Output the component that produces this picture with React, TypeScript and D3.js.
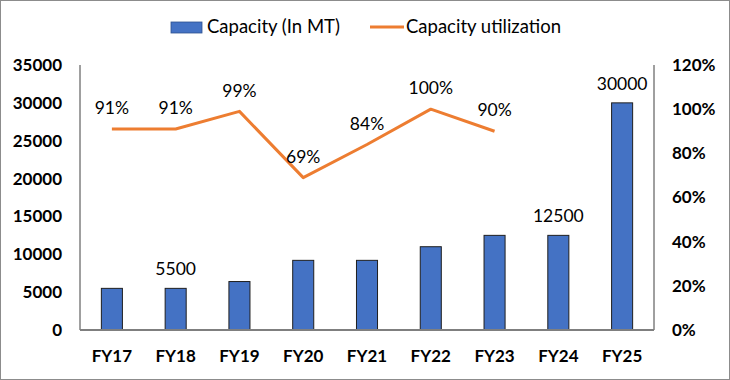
import React from "react";
import * as d3 from "d3";

const categories = ["FY17", "FY18", "FY19", "FY20", "FY21", "FY22", "FY23", "FY24", "FY25"];
const capacity = [5500, 5500, 6400, 9200, 9200, 11000, 12500, 12500, 30000];
const utilization: (number | null)[] = [0.91, 0.91, 0.99, 0.69, 0.84, 1.0, 0.9, null, null];
const capacityLabelShown = [false, true, false, false, false, false, false, true, true];
const leftTicks = [0, 5000, 10000, 15000, 20000, 25000, 30000, 35000];
const rightTicks = [0, 0.2, 0.4, 0.6, 0.8, 1.0, 1.2];

const W = 730;
const H = 380;
const FONT = "Lato, 'Open Sans', sans-serif";

export default function App() {
  const left = 80;
  const right = 654;
  const top = 65;
  const bottom = 330;

  const x = d3.scaleBand<string>().domain(categories).range([left, right]).paddingInner(0.67).paddingOuter(0.335);
  const yL = d3.scaleLinear().domain([0, 35000]).range([bottom, top]);
  const yR = d3.scaleLinear().domain([0, 1.2]).range([bottom, top]);
  const cx = (c: string) => (x(c) as number) + x.bandwidth() / 2;

  const linePts = categories
    .map((c, i) => ({ c, v: utilization[i] }))
    .filter((d) => d.v !== null) as { c: string; v: number }[];
  const line = d3
    .line<{ c: string; v: number }>()
    .x((d) => cx(d.c))
    .y((d) => yR(d.v));

  return (
    <svg width={W} height={H} style={{ position: "absolute", left: 0, top: 0 }} fontFamily={FONT}>
      <rect x={0.5} y={0.5} width={W - 1} height={H - 1} fill="white" stroke="#8c8c8c" strokeWidth={1} />
      {/* legend */}
      <rect x={171} y={22} width={31} height={11} fill="#4472C4" stroke="#2F528F" strokeWidth={0.8} />
      <text x={207} y={33} fontSize={18.5} fill="#000">Capacity (In MT)</text>
      <line x1={370} x2={404} y1={27} y2={27} stroke="#ED7D31" strokeWidth={3} />
      <text x={406} y={33} fontSize={18.5} fill="#000">Capacity utilization</text>

      {/* axes lines */}
      <line x1={left} x2={left} y1={top} y2={bottom} stroke="#404040" strokeWidth={1} />
      <line x1={right} x2={right} y1={top} y2={bottom} stroke="#404040" strokeWidth={1} />

      {/* bars */}
      {categories.map((c, i) => (
        <rect
          key={c}
          x={x(c)}
          y={yL(capacity[i])}
          width={x.bandwidth()}
          height={bottom - yL(capacity[i])}
          fill="#4472C4"
          stroke="#1f1f1f"
          strokeWidth={1}
        />
      ))}
      <line x1={left} x2={right} y1={bottom} y2={bottom} stroke="#7f7f7f" strokeWidth={2} />

      {/* line */}
      <path d={line(linePts) || ""} fill="none" stroke="#ED7D31" strokeWidth={3} strokeLinejoin="round" />

      {/* left ticks */}
      {leftTicks.map((t) => (
        <text key={t} x={62} y={yL(t)} dy="0.35em" textAnchor="end" fontSize={17} fontWeight="bold" fill="#000">
          {t}
        </text>
      ))}
      {/* right ticks */}
      {rightTicks.map((t) => (
        <text key={t} x={672} y={yR(t)} dy="0.35em" textAnchor="start" fontSize={17} fontWeight="bold" fill="#000">
          {d3.format(".0%")(t)}
        </text>
      ))}
      {/* category labels */}
      {categories.map((c) => (
        <text key={c} x={cx(c)} y={356} dy="0.35em" textAnchor="middle" fontSize={17} fontWeight="bold" fill="#000">
          {c}
        </text>
      ))}
      {/* utilization labels */}
      {linePts.map((d) => (
        <text key={d.c} x={cx(d.c)} y={yR(d.v) - 21} dy="0.35em" textAnchor="middle" fontSize={17.5} fill="#000">
          {d3.format(".0%")(d.v)}
        </text>
      ))}
      {/* capacity labels */}
      {categories.map((c, i) =>
        capacityLabelShown[i] ? (
          <text key={c} x={cx(c)} y={yL(capacity[i]) - 19} dy="0.35em" textAnchor="middle" fontSize={17.5} fill="#000">
            {capacity[i]}
          </text>
        ) : null
      )}
    </svg>
  );
}
